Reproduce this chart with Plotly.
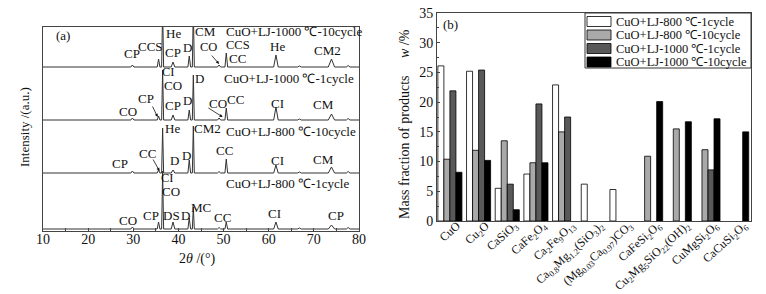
import plotly.graph_objects as go

# ---------------- panel (a): XRD patterns (peak positions / heights)
peak_2theta = [29.8, 35.6, 36.5, 38.8, 42.4, 43.3, 49.0, 50.6, 61.6, 66.8, 73.9, 77.6]
peak_halfw = [0.35, 0.3, 0.22, 0.4, 0.3, 0.22, 0.35, 0.3, 0.5, 0.4, 0.7, 0.4]
h_1000_10 = [2, 8, 60, 5, 11, 60, 2, 14, 12, 1, 8, 1.5]
h_1000_1 = [2, 4, 50, 5, 10, 45, 2, 12, 13, 1, 6, 1.5]
h_800_10 = [2, 3, 45, 3, 13, 47, 1.5, 14, 8, 1, 6, 1.5]
h_800_1 = [2, 7, 58, 7, 11, 22, 1.5, 7, 7, 1, 4, 1.5]
pattern_names = ["CuO+LJ-1000 ℃-10cycle", "CuO+LJ-1000 ℃-1cycle",
                 "CuO+LJ-800 ℃-10cycle", "CuO+LJ-800 ℃-1cycle"]
pattern_offsets = [164, 111, 58, 2]

# ---------------- panel (b): mass fractions
categories = ["CuO", "Cu<sub>2</sub>O", "CaSiO<sub>3</sub>", "CaFe<sub>2</sub>O<sub>4</sub>",
              "Ca<sub>2</sub>Fe<sub>9</sub>O<sub>13</sub>",
              "Ca<sub>0.8</sub>Mg<sub>1.2</sub>(SiO<sub>3</sub>)<sub>2</sub>",
              "(Mg<sub>0.03</sub>Ca<sub>0.97</sub>)CO<sub>3</sub>",
              "CaFeSi<sub>2</sub>O<sub>6</sub>",
              "Cu<sub>2</sub>Mg<sub>5</sub>SiO<sub>22</sub>(OH)<sub>2</sub>",
              "CuMgSi<sub>2</sub>O<sub>6</sub>", "CaCuSi<sub>2</sub>O<sub>6</sub>"]
w_800_1 = [26.1, 25.2, 5.5, 7.9, 22.9, 6.2, 5.3, None, None, None, None]
w_800_10 = [10.4, 11.9, 13.5, 9.8, 15.0, None, None, 10.9, 15.5, 12.0, None]
w_1000_1 = [21.9, 25.4, 6.2, 19.7, 17.5, None, None, None, None, 8.6, None]
w_1000_10 = [8.2, 10.2, 1.9, 9.8, None, None, None, 20.1, 16.7, 17.2, 15.0]
series_names = ["CuO+LJ-800 ℃-1cycle", "CuO+LJ-800 ℃-10cycle",
                "CuO+LJ-1000 ℃-1cycle", "CuO+LJ-1000 ℃-10cycle"]
series_colors = ["#ffffff", "#a9a9a9", "#595959", "#000000"]

FONT = "Liberation Serif, Times New Roman, serif"
W, H = 766, 294


def px(x):
    return x / W


def py(y):
    return 1 - y / H


def pattern(heights, offset):
    xs, ys = [10.0], [offset]
    for p, w, h in zip(peak_2theta, peak_halfw, heights):
        xs += [p - w, p, p + w]
        ys += [offset, offset + h, offset]
    xs.append(80.0)
    ys.append(offset)
    return xs, ys


fig = go.Figure()

for hts, off, name in zip([h_1000_10, h_1000_1, h_800_10, h_800_1], pattern_offsets, pattern_names):
    xs, ys = pattern(hts, off)
    fig.add_trace(go.Scatter(x=xs, y=ys, mode="lines", line=dict(color="#333333", width=1),
                             name=name, showlegend=False, xaxis="x", yaxis="y",
                             hoverinfo="skip"))

for vals, name, col in zip([w_800_1, w_800_10, w_1000_1, w_1000_10], series_names, series_colors):
    fig.add_trace(go.Bar(x=list(range(len(categories))), y=vals, name=name, showlegend=False,
                         marker=dict(color=col, line=dict(color="#000000", width=0.8)),
                         xaxis="x2", yaxis="y2"))

ann = []
shapes = []


def lab(text, x, y, size=13):
    ann.append(dict(text=text, x=x, y=y, xref="x", yref="y", showarrow=False,
                    xanchor="center", yanchor="middle",
                    font=dict(family=FONT, size=size, color="#111")))


def arrow(text_x, text_y, head_x, head_y):
    ann.append(dict(text="", x=head_x, y=head_y, ax=text_x, ay=text_y, xref="x", yref="y",
                    axref="x", ayref="y", showarrow=True, arrowhead=2, arrowsize=0.8,
                    arrowwidth=0.8, arrowcolor="#111"))


def paper_text(text, x, y, size=13, angle=0, xanchor="center"):
    ann.append(dict(text=text, x=px(x), y=py(y), xref="paper", yref="paper",
                    xanchor=xanchor, yanchor="middle", textangle=angle, showarrow=False,
                    font=dict(family=FONT, size=size, color="#111")))


lab("(a)", 14.4, 196)
# pattern 1
lab("CP", 29.8, 178); lab("CCS", 33.8, 185); lab("He", 38.9, 198); lab("CP", 38.9, 179)
lab("D", 42.0, 184); lab("CM", 46.0, 199); lab("CO", 46.7, 184.5, 12.5)
lab("CCS", 53.1, 186, 12.5)
lab("CC", 53.1, 173); lab("He", 62.0, 184.5); lab("CM2", 73.1, 181)
lab(pattern_names[0], 65.6, 199.5)
arrow(47.1, 177, 49.0, 167)
# pattern 2
lab("CI", 37.8, 159.5, 12.5); lab("CO", 38.9, 146); lab("D", 44.7, 153)
lab(pattern_names[1], 64.5, 153)
lab("CP", 32.9, 133); lab("CO", 28.9, 120); lab("CP", 38.9, 126); lab("D", 42.0, 131)
lab("CO", 48.7, 128); lab("CC", 52.7, 132); lab("CI", 62.0, 128); lab("CM", 72.2, 127)
arrow(34.1, 126, 35.4, 114)
arrow(46.3, 124, 49.8, 114)
# pattern 3
lab("He", 38.7, 103); lab("CM2", 46.4, 103); lab(pattern_names[2], 64.9, 100)
lab("CP", 27.1, 68); lab("CC", 33.1, 78); lab("D", 39.1, 71); lab("D", 41.8, 76)
lab("CC", 50.2, 81); lab("CI", 62.0, 71); lab("CM", 72.2, 72)
arrow(34.2, 73, 35.8, 60)
# pattern 4
lab(pattern_names[3], 64.2, 48); lab("CI", 37.5, 53.5, 12.5); lab("CO", 38.4, 39.5)
lab("MC", 44.9, 24)
lab("CO", 28.9, 11); lab("CP", 34.0, 16); lab("DS", 38.5, 16); lab("D", 41.6, 16)
lab("CC", 49.7, 14); lab("CI", 61.3, 18); lab("CP", 74.9, 16)

# axis titles and panel tags
paper_text("Intensity /(a.u.)", 25, 127, 13, -90)
paper_text("2<i>θ</i> /(°)", 197, 259, 14)
paper_text("Mass fraction of products&nbsp;&nbsp;&nbsp;&nbsp;&nbsp;<i>w</i> /%", 404, 124, 14, -90)
paper_text("(b)", 450, 25, 13)

# legend of panel (b): framed box with wide swatches
shapes.append(dict(type="rect", xref="paper", yref="paper", x0=px(585), x1=px(751),
                   y0=py(68), y1=py(13), line=dict(color="#333", width=1), fillcolor="white",
                   layer="above"))
for i, (name, col) in enumerate(zip(series_names, series_colors)):
    yc = 21.5 + i * 13.5
    shapes.append(dict(type="rect", xref="paper", yref="paper", x0=px(587), x1=px(611),
                       y0=py(yc + 5), y1=py(yc - 5), fillcolor=col,
                       line=dict(color="#000", width=0.8), layer="above"))
    paper_text(name, 614, yc, 12.5, 0, "left")

axcol = "#444444"
fig.update_layout(
    width=W, height=H, margin=dict(l=0, r=0, t=0, b=0),
    paper_bgcolor="white", plot_bgcolor="white",
    font=dict(family=FONT, size=13, color="#111"),
    barmode="group", bargap=0.16, bargroupgap=0,
    annotations=ann, shapes=shapes, showlegend=False,
    xaxis=dict(domain=[px(43), px(359)], range=[10, 80], anchor="y",
               tickvals=[10, 20, 30, 40, 50, 60, 70, 80], ticks="inside", ticklen=3,
               minor=dict(dtick=5, ticks="inside", ticklen=3, tick0=0),
               showline=True, linecolor=axcol, linewidth=1, mirror=True, showgrid=False,
               zeroline=False, tickfont=dict(size=14), automargin=False,
               ticklabelstandoff=-5),
    yaxis=dict(domain=[py(231), py(27)], range=[0, 204], anchor="x",
               showticklabels=False, ticks="", showline=True, linecolor=axcol, linewidth=1,
               mirror=True, showgrid=False, zeroline=False, automargin=False),
    xaxis2=dict(domain=[px(437), px(751)], range=[-0.45, 10.5], anchor="y2",
                tickvals=list(range(len(categories))), ticktext=categories, tickangle=-42,
                ticks="", showline=True, linecolor=axcol, linewidth=1, mirror=True,
                showgrid=False, zeroline=False, tickfont=dict(size=12), automargin=False,
                ticklabelstandoff=-8, ticklabelshift=7),
    yaxis2=dict(domain=[py(221), py(13)], range=[0, 35], anchor="x2",
                tickvals=[0, 5, 10, 15, 20, 25, 30, 35], ticks="inside", ticklen=3,
                minor=dict(dtick=2.5, ticks="inside", ticklen=2),
                showline=True, linecolor=axcol, linewidth=1, mirror=True, showgrid=False,
                zeroline=False, tickfont=dict(size=14), automargin=False),
)

fig.write_html("out.html", config={"displayModeBar": False},
               post_script="document.body.style.margin='0';")
